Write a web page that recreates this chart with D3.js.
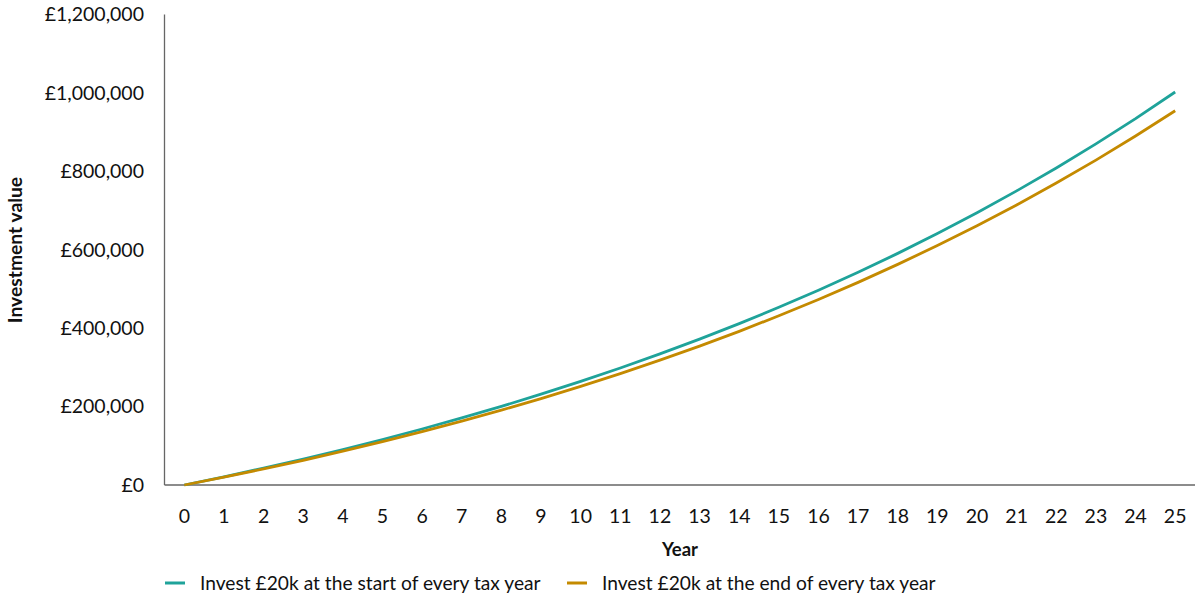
<!DOCTYPE html>
<html>
<head>
<meta charset="utf-8">
<script src="https://cdn.jsdelivr.net/npm/d3@7"></script>
<style>
  body { margin: 0; background: #fff; }
  text { font-family: Lato, "Open Sans", sans-serif; fill: #111; }
</style>
</head>
<body>
<svg id="chart" width="1200" height="600"></svg>
<script>
var years = d3.range(0, 26);
// value of the pot at each year
var startOfYear = [0, 21000, 43050, 66203, 90513, 116038, 142840, 170982, 200531, 231558,
  264136, 298343, 334260, 371973, 411571, 453150, 496807, 542648, 590780, 641319,
  694385, 750104, 808610, 870040, 934542, 1002269];
var endOfYear = [0, 20000, 41000, 63050, 86203, 110513, 136038, 162840, 190982, 220531,
  251558, 284136, 318343, 354260, 391973, 431571, 473150, 516807, 562648, 610780,
  661319, 714385, 770104, 828610, 890040, 954542];
var yTicks = [0, 200000, 400000, 600000, 800000, 1000000, 1200000];
var seriesNames = ['Invest £20k at the start of every tax year', 'Invest £20k at the end of every tax year'];
var seriesColors = ['#1fa39a', '#c48a00'];

var svg = d3.select('#chart');
var plotL = 164.5, plotR = 1195, plotT = 14.5, plotB = 485;

var x = d3.scalePoint().domain(years).range([plotL, plotR]).padding(0.5);
var y = d3.scaleLinear().domain([0, 1200000]).range([plotB, plotT]);

// axis lines
svg.append('line')
  .attr('x1', plotL).attr('x2', plotL)
  .attr('y1', plotT).attr('y2', plotB)
  .attr('stroke', '#666').attr('stroke-width', 1.3);
svg.append('line')
  .attr('x1', plotL).attr('x2', plotR)
  .attr('y1', plotB).attr('y2', plotB)
  .attr('stroke', '#666').attr('stroke-width', 1.3);

var fmt = function(d) { return '£' + d3.format(',')(d); };

svg.selectAll('.ytick')
  .data(yTicks)
  .enter()
  .append('text')
  .attr('class', 'ytick')
  .attr('x', 144)
  .attr('y', function(d) { return y(d); })
  .attr('dy', '0.35em')
  .attr('text-anchor', 'end')
  .attr('font-size', '19.5px')
  .text(fmt);

svg.selectAll('.xtick')
  .data(years)
  .enter()
  .append('text')
  .attr('class', 'xtick')
  .attr('x', function(d) { return x(d); })
  .attr('y', 516)
  .attr('dy', '0.35em')
  .attr('text-anchor', 'middle')
  .attr('font-size', '19.5px')
  .text(function(d) { return d; });

svg.append('text')
  .attr('x', 680).attr('y', 550).attr('dy', '0.35em')
  .attr('text-anchor', 'middle')
  .attr('font-size', '18.5px').attr('font-weight', 'bold')
  .text('Year');

svg.append('text')
  .attr('transform', 'translate(15,250) rotate(-90)')
  .attr('dy', '0.35em')
  .attr('text-anchor', 'middle')
  .attr('font-size', '19.3px').attr('font-weight', 'bold')
  .text('Investment value');

var line = d3.line()
  .x(function(d, i) { return x(years[i]); })
  .y(function(d) { return y(d); });

[startOfYear, endOfYear].forEach(function(s, i) {
  svg.append('path')
    .datum(s)
    .attr('fill', 'none')
    .attr('stroke', seriesColors[i])
    .attr('stroke-width', 2.8)
    .attr('d', line);
});

// legend
var legendX = [165, 567];
seriesNames.forEach(function(name, i) {
  svg.append('line')
    .attr('x1', legendX[i]).attr('x2', legendX[i] + 20)
    .attr('y1', 583).attr('y2', 583)
    .attr('stroke', seriesColors[i]).attr('stroke-width', 3);
  svg.append('text')
    .attr('x', legendX[i] + 35).attr('y', 583).attr('dy', '0.35em')
    .attr('font-size', '19.2px')
    .text(name);
});
</script>
</body>
</html>
